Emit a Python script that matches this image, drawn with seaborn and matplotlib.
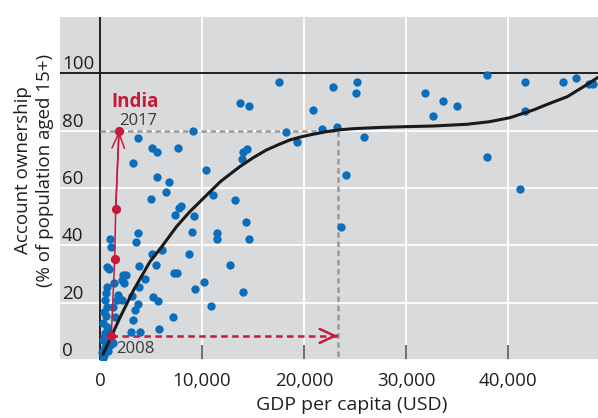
import pandas as pd
import seaborn as sns
import matplotlib.pyplot as plt
from matplotlib.ticker import StrMethodFormatter

# Countries: GDP per capita (USD) and account ownership (% aged 15+)
gdp = [17580, 22870, 25170, 25100, 20850, 18200, 19280, 21740, 23200, 25880,
       24090, 23630, 31860, 33660, 34970, 32680, 37970, 37970, 41640, 41640,
       41180, 45360, 46670, 47970, 48300,
       13730, 14580, 9150, 3700, 5130, 5560, 7680, 14400, 14050, 13890,
       3200, 10390, 5560, 6790, 6470, 11110, 5000, 13240, 7910, 7770,
       7320, 9250, 14280, 3750, 3530, 9050, 11500, 11500, 14610, 1010,
       1110, 6080, 5130, 8700, 3820, 5490, 12750, 640, 850, 7250,
       7520, 2280, 2520, 2130, 2350, 1370, 4410, 10200, 3850, 660,
       9310, 14050, 5230, 5720, 3110, 1790, 2130, 1640, 3700, 3430,
       10880, 7190, 3200, 5810, 3010, 3920,
       590, 490, 650, 390, 590, 330, 650, 490, 820, 330,
       650, 490, 160, 980, 1300, 390, 1300, 1470, 800, 250]
account = [96.9, 95.3, 97.1, 93.0, 87.2, 79.6, 75.9, 80.6, 81.4, 77.9,
           64.5, 46.5, 93.2, 90.4, 88.7, 85.2, 99.4, 70.9, 97.1, 86.9,
           59.7, 96.9, 98.3, 96.3, 96.3,
           89.5, 88.4, 80.0, 77.5, 73.8, 72.7, 73.8, 73.6, 72.7, 70.1,
           68.6, 66.3, 63.7, 62.2, 58.7, 57.6, 56.2, 55.8, 53.7, 52.9,
           50.5, 50.3, 48.0, 44.2, 41.3, 44.5, 44.2, 42.1, 42.1, 42.2,
           39.5, 38.4, 36.9, 37.0, 32.9, 33.1, 33.1, 32.6, 31.9, 30.4,
           30.2, 29.6, 29.5, 27.9, 27.0, 27.0, 28.3, 27.3, 25.4, 25.4,
           24.9, 23.6, 21.9, 20.6, 22.4, 22.7, 20.9, 20.9, 19.5, 17.4,
           18.9, 14.9, 14.0, 10.7, 9.7, 9.9,
           23.3, 20.9, 18.6, 16.9, 15.3, 12.8, 11.6, 9.5, 9.3, 7.0,
           6.4, 4.6, 2.9, 5.2, 6.0, 1.7, 18.6, 15.1, 3.0, 0.8]

# Fitted curve
curve_gdp = [300, 2000, 3300, 4900, 6050, 7500, 8800, 9800, 11800, 13700,
             15000, 16300, 17500, 18600, 19600, 20600, 22000, 23300, 25000, 27500,
             29400, 32700, 36000, 38200, 40200, 42500, 44100, 45800, 47400, 48800]
curve_account = [2.0, 15.1, 24.4, 34.3, 39.5, 46.5, 51.7, 55.2, 62.2, 67.4,
                 70.5, 73.2, 75.1, 76.7, 77.7, 78.5, 79.5, 80.2, 80.7, 81.1,
                 81.3, 81.6, 82.2, 83.1, 84.5, 87.2, 89.5, 91.8, 95.3, 98.5]

# India
india_years = ['2008', '', '', '2017']
india_gdp = [1110, 1440, 1540, 1860]
india_account = [8.4, 35.2, 52.7, 79.9]

# GDP where the curve reaches India's 2017 level
target_gdp = 23300

blue = '#0a6ebd'
red = '#c41a3b'
ink = '#231f20'

sns.set_theme(style='darkgrid', rc={
    'axes.facecolor': '#d9dadc',
    'grid.color': 'white',
    'grid.linewidth': 1.3,
    'lines.scale_dashes': False,
})
plt.rcParams['font.family'] = ['Open Sans', 'DejaVu Sans']

countries = pd.DataFrame({'gdp': gdp, 'account': account})
curve = pd.DataFrame({'gdp': curve_gdp, 'account': curve_account})
india = pd.DataFrame({'gdp': india_gdp, 'account': india_account})

fig = plt.figure(figsize=(5.98, 4.18), dpi=100)
ax = fig.add_axes([60 / 598, 58 / 418, 538 / 598, 343 / 418])

ax.axvline(0, color=ink, lw=1.4, zorder=2)
ax.axhline(100, color=ink, lw=1.4, zorder=2)

# reference lines
ax.plot([0, target_gdp], [80, 80], color='#9a9a9a', lw=1.8, dashes=(4, 2.6), zorder=2)
ax.plot([target_gdp, target_gdp], [80, 0], color='#9a9a9a', lw=1.8, dashes=(4, 2.6), zorder=2)
ax.plot([0, target_gdp], [india_account[0], india_account[0]], color=red, lw=1.8,
        dashes=(4.7, 3.2), zorder=2)
ax.annotate('', xy=(target_gdp, india_account[0]), xytext=(target_gdp - 100, india_account[0]),
            arrowprops=dict(arrowstyle='->,head_length=1.08,head_width=0.5', color=red,
                            lw=1.8, shrinkA=0, shrinkB=0, mutation_scale=10), zorder=3)

sns.scatterplot(data=countries, x='gdp', y='account', color=blue, s=36,
                linewidth=0, ax=ax, zorder=3)
sns.lineplot(data=curve, x='gdp', y='account', color='#1a1a1a', lw=2.2,
             sort=False, estimator=None, ax=ax, zorder=4)

sns.lineplot(data=india, x='gdp', y='account', color=red, lw=1.1,
             sort=False, estimator=None, ax=ax, zorder=5)
sns.scatterplot(data=india, x='gdp', y='account', color=red, s=44,
                linewidth=0, ax=ax, zorder=6)
ax.annotate('', xy=(india_gdp[-1], india_account[-1]), xytext=(india_gdp[-2], india_account[-2]),
            arrowprops=dict(arrowstyle='->,head_length=1.1,head_width=0.45', color=red,
                            lw=1.1, shrinkA=0, shrinkB=0, mutation_scale=10), zorder=6)

ax.text(1080, 90.1, 'India', color=red, fontsize=13.5, fontweight='bold',
        ha='left', va='center', zorder=7)
ax.text(1900, 83.3, india_years[-1], color='#3a3a3a', fontsize=12,
        ha='left', va='center', zorder=7)
ax.text(1570, 3.7, india_years[0], color='#3a3a3a', fontsize=12,
        ha='left', va='center', zorder=7)

ax.set_xlim(-3920, 48820)
ax.set_ylim(0, 119.6)
ax.set_xticks([0, 10000, 20000, 30000, 40000])
ax.xaxis.set_major_formatter(StrMethodFormatter('{x:,.0f}'))
ax.set_yticks([0, 20, 40, 60, 80, 100])
ax.set_yticklabels(['0', '20', '40', '60', '80', '100'], ha='left', va='bottom')
ax.tick_params(axis='x', direction='in', length=10.8, width=1.2, color='#555555',
               labelsize=13.5, labelcolor=ink, pad=9, bottom=True)
ax.tick_params(axis='y', length=0, pad=-1.5, labelsize=13.5, labelcolor=ink)
ax.set_xlabel('')
ax.set_ylabel('')
for s in ax.spines.values():
    s.set_visible(False)

fig.text(352 / 598, 1 - 405 / 418, 'GDP per capita (USD)', ha='center', va='center',
         fontsize=14, color=ink)
fig.text(34 / 598, 1 - 170 / 418, 'Account ownership\n(% of population aged 15+)',
         rotation=90, ha='center', va='center', multialignment='center',
         fontsize=13.5, color=ink, linespacing=1.25)

fig.savefig('out.png', dpi=100)
